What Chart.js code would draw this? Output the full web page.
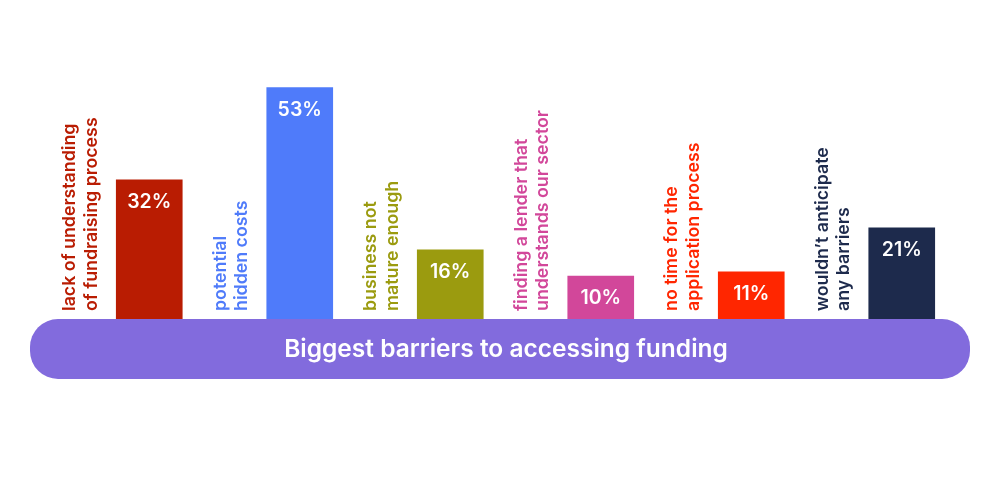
<!DOCTYPE html>
<html>
<head>
<meta charset="utf-8">
<script src="https://cdn.jsdelivr.net/npm/chart.js@4/dist/chart.umd.min.js"></script>
<style>
    html, body { margin: 0; padding: 0; background: #ffffff; }
    #wrap { width: 1000px; height: 479px; }
</style>
</head>
<body>
<div id="wrap"><canvas id="barriersChart" width="1000" height="479"></canvas></div>
<script>
// ========================================
// Data
// ========================================
const categories = [
    ['lack of understanding', 'of fundraising process'],
    ['potential', 'hidden costs'],
    ['business not', 'mature enough'],
    ['finding a lender that', 'understands our sector'],
    ['no time for the', 'application process'],
    ['wouldn\u2019t anticipate', 'any barriers']
];
const shares = [32, 53, 16, 10, 11, 21];
const valueLabels = ['32%', '53%', '16%', '10%', '11%', '21%'];
const barColors = ['#b91c02', '#4f7bfa', '#9b9b0f', '#d2479a', '#ff2600', '#1d2a4c'];
const chartTitle = 'Biggest barriers to accessing funding';

const FONT = 'Inter, "Open Sans", sans-serif';

// Draw rotated category labels, values inside bars and the title pill
const decorations = {
    id: 'decorations',
    afterDatasetsDraw(chart) {
        const ctx = chart.ctx;
        const meta = chart.getDatasetMeta(0);

        meta.data.forEach((bar, i) => {
            const left = bar.x - bar.width / 2;

            // category label, two lines, rotated
            ctx.save();
            ctx.fillStyle = barColors[i];
            ctx.font = '600 17.8px ' + FONT;
            ctx.textAlign = 'left';
            ctx.textBaseline = 'alphabetic';
            categories[i].forEach((line, j) => {
                const bx = left - 41 + j * 21.5;
                ctx.save();
                ctx.translate(bx, 311);
                ctx.rotate(-Math.PI / 2);
                ctx.fillText(line, 0, 0);
                ctx.restore();
            });
            ctx.restore();

            // value inside bar
            ctx.save();
            ctx.fillStyle = '#ffffff';
            ctx.font = '600 19.5px ' + FONT;
            ctx.textAlign = 'center';
            ctx.textBaseline = 'middle';
            ctx.fillText(valueLabels[i], bar.x, bar.y + 22);
            ctx.restore();
        });

        // title pill
        ctx.save();
        ctx.fillStyle = '#826bdd';
        ctx.beginPath();
        ctx.roundRect(30, 319, 940, 60, 28);
        ctx.fill();
        ctx.fillStyle = '#ffffff';
        ctx.font = '600 24.5px ' + FONT;
        ctx.textAlign = 'center';
        ctx.textBaseline = 'middle';
        ctx.fillText(chartTitle, 506, 350);
        ctx.restore();
    }
};

document.addEventListener('DOMContentLoaded', function () {
    const ctx = document.getElementById('barriersChart');
    new Chart(ctx, {
        type: 'bar',
        data: {
            labels: categories,
            datasets: [{
                data: shares,
                backgroundColor: barColors,
                borderWidth: 0,
                barThickness: 66
            }]
        },
        options: {
            responsive: false,
            animation: false,
            devicePixelRatio: 1,
            layout: {
                padding: { left: 74, right: 23, top: 57, bottom: 159 }
            },
            plugins: {
                legend: { display: false },
                tooltip: { enabled: false }
            },
            scales: {
                x: { display: false, offset: true },
                y: { display: false, min: 0, max: 60 }
            }
        },
        plugins: [decorations]
    });
});
</script>
</body>
</html>
